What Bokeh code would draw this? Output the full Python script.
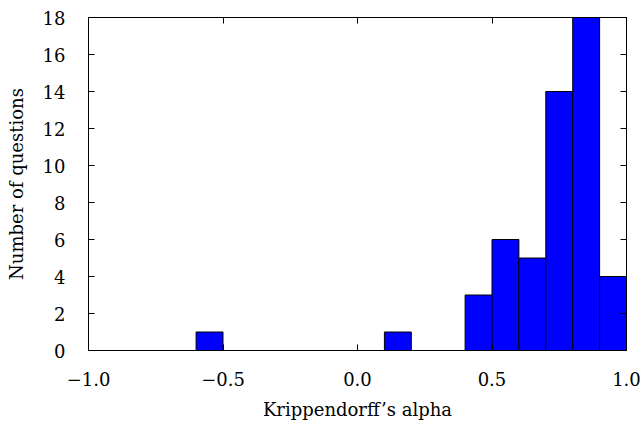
from bokeh.plotting import figure
from bokeh.models import LinearAxis, FixedTicker, CustomJSTickFormatter, Range1d
from bokeh.embed import file_html
from bokeh.resources import INLINE

bin_left = [-0.6, 0.1, 0.4, 0.5, 0.6, 0.7, 0.8, 0.9]
bin_right = [-0.5, 0.2, 0.5, 0.6, 0.7, 0.8, 0.9, 1.0]
counts = [1, 1, 3, 6, 5, 14, 18, 4]
x_ticks = [-1.0, -0.5, 0.0, 0.5, 1.0]
y_ticks = [0, 2, 4, 6, 8, 10, 12, 14, 16, 18]

FONT = "DejaVu Serif"
FS = "18px"

p = figure(width=642, height=425, output_backend="svg", toolbar_location=None,
           x_range=Range1d(-1.0, 1.0), y_range=Range1d(0, 18),
           frame_width=538, frame_height=333,
           min_border_left=88, min_border_right=16, min_border_top=17, min_border_bottom=75,
           x_axis_location=None, y_axis_location=None)
p.grid.visible = False
p.outline_line_color = "black"
p.outline_line_width = 1
p.background_fill_color = "white"
p.border_fill_color = "white"

p.quad(left=bin_left, right=bin_right, bottom=0, top=counts,
       fill_color="#0000ff", line_color="black", line_width=1)

fmt = CustomJSTickFormatter(code="return (tick < 0 ? '\\u2212' : '') + Math.abs(tick).toFixed(1);")
blank = CustomJSTickFormatter(code="return '';")

def style(ax, labels=True):
    ax.major_tick_in = 6
    ax.major_tick_out = 0
    ax.minor_tick_in = 0
    ax.minor_tick_out = 0
    ax.axis_line_color = "black"
    ax.major_tick_line_color = "black"
    ax.major_label_text_font = FONT
    ax.major_label_text_color = "black"
    ax.major_label_text_font_size = FS
    if labels:
        ax.major_label_standoff = 22
    else:
        ax.formatter = blank
        ax.major_label_standoff = 0
    ax.axis_label_text_font = FONT
    ax.axis_label_text_font_size = FS
    ax.axis_label_text_font_style = "normal"
    ax.axis_label_text_color = "black"

xb = LinearAxis(ticker=FixedTicker(ticks=x_ticks), formatter=fmt, axis_label="Krippendorff\u2019s alpha")
style(xb)
xb.major_label_standoff = 21
xb.axis_label_standoff = 10
p.add_layout(xb, "below")

yl = LinearAxis(ticker=FixedTicker(ticks=y_ticks), axis_label="Number of questions")
style(yl)
yl.major_label_standoff = 23
yl.axis_label_standoff = 13
p.add_layout(yl, "left")

xt = LinearAxis(ticker=FixedTicker(ticks=x_ticks))
style(xt, labels=False)
p.add_layout(xt, "above")

yr = LinearAxis(ticker=FixedTicker(ticks=y_ticks))
style(yr, labels=False)
p.add_layout(yr, "right")

open("out.html", "w").write(file_html(p, INLINE))
